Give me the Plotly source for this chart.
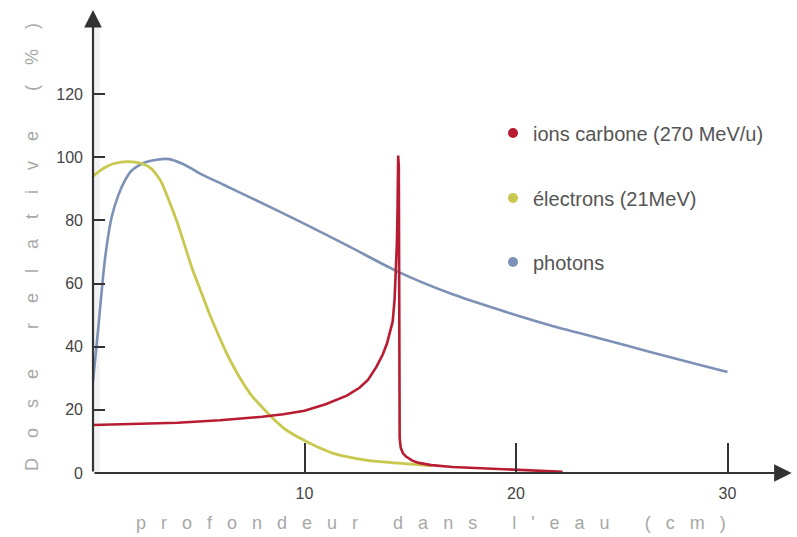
import plotly.graph_objects as go

# ---------------- data ----------------
carbon_x = [0, 2, 4, 6, 8, 9, 10, 11, 12, 12.6, 13.0, 13.4, 13.7, 13.9, 14.05, 14.17,
            14.26, 14.32, 14.37, 14.40, 14.43, 14.46, 14.47, 14.48, 14.50, 14.55, 14.65,
            14.8, 15.1, 15.4, 16, 17, 18.4, 20, 21, 22.2]
carbon_y = [15.2, 15.5, 15.9, 16.7, 17.8, 18.6, 19.7, 21.8, 24.5, 27, 29.5, 33.6, 37.5,
            41, 44.5, 48, 55, 63, 73, 84, 100.5, 97, 45, 18, 11, 8, 6.3, 5.2, 3.9, 3.2,
            2.5, 1.9, 1.5, 1.0, 0.7, 0.4]

electron_x = [0, 0.5, 1, 1.65, 2.3, 2.77, 3.2, 3.55, 4.0, 4.34, 4.7, 5.13, 5.5, 5.91,
              6.3, 6.7, 7.1, 7.49, 8.0, 8.43, 9.0, 9.5, 10.0, 10.6, 11.33, 12.1, 12.9,
              13.7, 14.48, 15.2, 16.0]
electron_y = [94, 96.5, 98, 98.6, 98, 96.3, 92.5, 87, 79, 72, 64.5, 57, 50.5, 44, 38.2,
              33, 28.4, 24.6, 20.8, 17.8, 14.3, 12.1, 10.3, 8.3, 6.3, 5, 4.1, 3.5,
              3.1, 2.7, 2.3]

photon_x = [0, 0.25, 0.57, 0.88, 1.2, 1.5, 1.82, 2.45, 3.0, 3.6, 4.2, 4.6, 5.06, 6.2,
            7.42, 9.79, 12.15, 14.43, 16.88, 19.24, 21.6, 23.97, 26.3, 28.7, 30]
photon_y = [29, 46, 68, 81, 88, 92.5, 95.7, 98.3, 99.2, 99.4, 98.0, 96.6, 94.8, 91.2,
            87.3, 79.6, 71.6, 63.7, 56.9, 51.6, 46.8, 42.6, 38.4, 34.2, 32]

series_names = ["ions carbone (270 MeV/u)", "électrons (21MeV)", "photons"]
series_colors = ["#b81c32", "#c9c84e", "#7d91b6"]

y_ticks = [0, 20, 40, 60, 80, 100, 120]
x_ticks = [10, 20, 30]

x_title = "profondeur dans l'eau (cm)"
y_title = "Dose relative (%)"


def spaced(text, inner, word):
    nb = "\u00a0"
    words = text.split(" ")
    return (nb * word).join((nb * inner).join(list(w)) for w in words)


# ---------------- figure ----------------
W, H = 797, 537
ML, MB, MT, MR = 93, 64, 0, 0
PW, PH = W - ML - MR, H - MB - MT
PX_PER_CM = 21.15
PX_PER_PCT = 3.158
XMAX = PW / PX_PER_CM
YMAX = PH / PX_PER_PCT

fig = go.Figure()

fig.add_trace(go.Scatter(x=photon_x, y=photon_y, mode="lines", showlegend=False,
                         line=dict(color=series_colors[2], width=2.6, shape="spline",
                                   smoothing=0.8), cliponaxis=False))
fig.add_trace(go.Scatter(x=electron_x, y=electron_y, mode="lines", showlegend=False,
                         line=dict(color=series_colors[1], width=2.8, shape="spline",
                                   smoothing=0.6), cliponaxis=False))
fig.add_trace(go.Scatter(x=carbon_x, y=carbon_y, mode="lines", showlegend=False,
                         line=dict(color=series_colors[0], width=2.6), cliponaxis=False))

# legend entries (one legend per entry for exact placement)
legend_keys = ["legend", "legend2", "legend3"]
for name, col, key in zip(series_names, series_colors, legend_keys):
    fig.add_trace(go.Scatter(x=[None], y=[None], mode="markers", name=name, legend=key,
                             marker=dict(color=col, size=10, symbol="circle")))

legend_rows_px = [133, 198, 262]
leg_common = dict(xanchor="left", yanchor="middle", bgcolor="rgba(0,0,0,0)",
                  borderwidth=0, font=dict(family="Liberation Sans, Arial, sans-serif",
                                           size=20, color="#555555"))
legend_layout = {}
for key, py in zip(legend_keys, legend_rows_px):
    legend_layout[key] = dict(x=(493 - ML) / PW, y=(PH - py) / PH, **leg_common)

axis_col = "#333333"
tick_font = dict(family="Liberation Sans, Arial, sans-serif", size=16, color="#444444")

fig.update_layout(
    width=W, height=H,
    margin=dict(l=ML, r=MR, t=MT, b=MB, pad=0),
    paper_bgcolor="white", plot_bgcolor="white",
    showlegend=True,
    **legend_layout,
    xaxis=dict(range=[0, XMAX], tickvals=x_ticks, ticktext=[str(v) for v in x_ticks],
               ticks="inside", ticklen=30, tickwidth=1.6, tickcolor=axis_col,
               showline=False, showgrid=False, zeroline=False, tickfont=tick_font,
               ticklabelstandoff=9, fixedrange=True),
    yaxis=dict(range=[0, YMAX], tickvals=y_ticks, ticktext=[str(v) for v in y_ticks],
               ticks="inside", ticklen=12, tickwidth=2.2, tickcolor=axis_col,
               showline=False, showgrid=False, zeroline=False, tickfont=tick_font,
               ticklabelstandoff=9, fixedrange=True),
)

# soft shadow under the axes
fig.add_shape(type="line", xref="x", yref="y", x0=0.1, x1=XMAX - 0.5, y0=-1.6, y1=-1.6,
              line=dict(color="rgba(0,0,0,0.07)", width=6), layer="below")
fig.add_shape(type="line", xref="x", yref="y", x0=0.18, x1=0.18, y0=0, y1=YMAX - 6,
              line=dict(color="rgba(0,0,0,0.05)", width=6), layer="below")

# axes with arrow heads
fig.add_annotation(x=XMAX - 0.25, y=0, ax=0, ay=0, xref="x", yref="y", axref="x",
                   ayref="y", text="", showarrow=True, arrowhead=2, arrowsize=1.6,
                   arrowwidth=2.2, arrowcolor=axis_col, standoff=0, startstandoff=0)
fig.add_annotation(x=0, y=(PH - 10) / PX_PER_PCT, ax=0, ay=0, xref="x", yref="y",
                   axref="x", ayref="y", text="", showarrow=True, arrowhead=2,
                   arrowsize=1.6, arrowwidth=2.2, arrowcolor=axis_col, standoff=0,
                   startstandoff=0)

# axis titles (letter-spaced)
title_font = dict(family="Liberation Sans, Arial, sans-serif", size=18, color="#a8a8a8")
fig.add_annotation(x=(431 - ML) / PW, y=-(523 - PH) / PH, xref="paper", yref="paper",
                   text=spaced(x_title, 3, 7), showarrow=False, font=title_font,
                   xanchor="center", yanchor="middle")
fig.add_annotation(x=(32 - ML) / PW, y=(PH - 247) / PH, xref="paper", yref="paper",
                   text=spaced(y_title, 4, 8), showarrow=False, font=title_font,
                   textangle=-90, xanchor="center", yanchor="middle")

fig.write_html("out.html")
